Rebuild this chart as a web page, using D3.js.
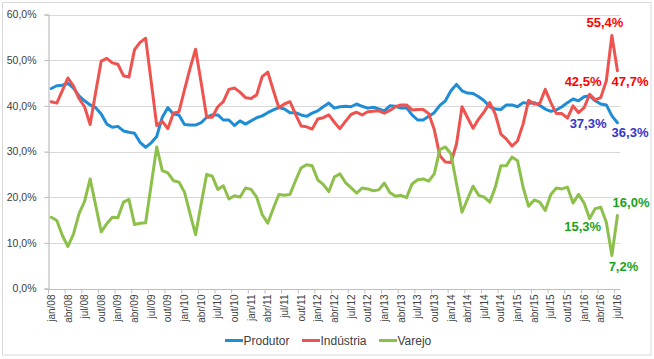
<!DOCTYPE html>
<html><head><meta charset="utf-8">
<script src="https://cdn.jsdelivr.net/npm/d3@7"></script>
<style>
html,body{margin:0;padding:0;background:#fff;}
svg{display:block;font-family:"Liberation Sans",Arial,sans-serif;}
</style></head>
<body><svg id="c" width="654" height="359"></svg>
<script>
const monthNames = ["jan","fev","mar","abr","mai","jun","jul","ago","set","out","nov","dez"];
const categories = [];
for (let y = 2008; y <= 2016; y++) for (let m = 0; m < 12; m++) {
  if (y === 2016 && m > 6) break;
  categories.push(monthNames[m] + "/" + String(y).slice(2));
}
const seriesNames = ["Produtor","Indústria","Varejo"];
const produtor = [43.8,44.4,44.5,44.9,43.9,42.2,41.1,40.2,39.6,38.2,36.0,35.3,35.5,34.5,34.2,34.0,32.0,30.9,31.9,33.3,
  37.5,39.6,38.2,38.0,35.9,35.8,35.8,36.3,37.5,38.0,38.0,36.9,36.9,35.7,36.7,36.0,36.7,37.4,37.8,38.5,
  39.1,39.6,39.3,38.5,38.5,38.0,37.7,38.4,38.9,39.8,40.6,39.5,39.8,39.9,39.8,40.4,39.9,39.5,39.7,39.3,
  38.9,40.0,39.9,39.5,39.6,38.0,36.9,36.9,37.7,38.5,40.1,41.1,43.3,44.7,43.3,42.8,42.7,42.0,41.1,39.8,
  39.3,39.2,40.2,40.2,39.8,40.7,40.5,40.7,40.1,39.3,38.8,39.1,39.8,40.7,41.5,41.1,42.0,42.2,41.1,40.4,
  40.2,37.8,36.3];
const industria = [40.9,40.6,43.4,46.1,44.3,41.6,39.8,35.9,43.0,49.8,50.4,49.4,49.1,46.6,46.3,52.3,53.9,54.8,45.3,35.7,
  36.6,35.0,38.4,38.7,43.5,48.2,52.4,45.1,37.5,37.5,39.8,40.9,43.6,43.9,43.0,41.8,41.6,42.4,46.4,47.4,
  43.4,39.6,40.4,40.9,38.2,35.6,35.4,34.9,37.1,37.4,38.0,36.4,35.0,36.6,38.1,38.6,38.0,38.7,38.8,38.9,
  38.4,39.0,39.8,40.2,40.2,39.1,39.2,39.2,38.3,34.8,29.1,27.7,27.6,31.6,39.8,37.4,35.1,37.1,38.7,40.7,
  38.2,33.8,32.7,31.2,32.3,36.0,41.2,40.4,40.5,43.6,40.7,38.3,38.3,37.3,40.0,38.5,39.6,42.5,41.3,41.8,
  45.5,55.4,47.7];
const varejo = [15.6,14.9,11.6,9.2,11.9,16.4,19.1,24.0,18.2,12.4,14.2,15.6,15.5,18.9,19.5,14.0,14.3,14.4,22.7,31.0,
  25.8,25.3,23.6,23.3,21.1,16.4,11.8,18.5,25.0,24.6,21.7,22.5,19.6,20.3,20.0,22.0,21.7,20.0,16.2,14.3,
  17.5,20.6,20.4,20.6,23.6,26.4,27.1,26.9,23.8,22.8,21.2,24.4,25.1,23.2,22.1,20.9,22.0,21.8,21.4,21.6,
  23.1,21.0,20.2,20.4,19.9,22.9,23.8,24.0,23.5,25.1,30.4,31.0,29.5,23.0,16.7,19.6,22.4,20.4,20.0,18.9,
  22.2,26.9,26.9,28.8,28.0,22.2,18.0,19.4,18.9,17.1,20.6,22.0,21.8,22.2,18.7,20.6,18.7,15.3,17.5,17.8,
  14.5,7.2,16.0];
const yTicks = [0,10,20,30,40,50,60];
const annLabels = ["55,4%","47,7%","42,5%","37,3%","36,3%","16,0%","15,3%","7,2%"];
const annValues = [55.4,47.7,42.5,37.3,36.3,16.0,15.3,7.2];
const annIndex  = [101,102,97,97,102,102,97,101];
const annSeries = [1,1,1,0,0,2,2,2];

const lineColors = ["#1f8dd6","#ee5350","#8dc04b"];
const annColors = ["#3535cc","#ff0000","#1aa31a"];
const annOffsets = [[-7,-8.5],[12.6,15.3],[-6.6,-8.4],[-1.6,10],[12.6,14.3],[13.6,-8.4],[-7,12.4],[11.6,15.4]];

const svg = d3.select("#c");
const L = 48.5, R = 620.2, T = 14.5, B = 288.5;
const x = d3.scaleBand().domain(categories).range([L, R]).padding(0);
const cx = d => x(d) + x.bandwidth() / 2;
const y = d3.scaleLinear().domain([0, 60]).range([B, T]);

svg.append("rect").attr("x",2.5).attr("y",2.5).attr("width",648.5).attr("height",352.5)
  .attr("fill","#fff").attr("stroke","#d9d9d9").attr("stroke-width",1);

// grid
svg.append("g").selectAll("line").data(yTicks.filter(t => t > 0)).join("line")
  .attr("x1", L - 4).attr("x2", R).attr("y1", d => Math.round(y(d)) + 0.5).attr("y2", d => Math.round(y(d)) + 0.5)
  .attr("stroke", "#d9d9d9").attr("stroke-width", 1.2);

// y axis
const yAxis = d3.axisLeft(y).tickValues(yTicks).tickSize(4).tickPadding(8)
  .tickFormat(d => d3.format(".1f")(d).replace(".", ",") + "%");
const gy = svg.append("g").attr("transform", `translate(${L},0)`).call(yAxis);
gy.select(".domain").attr("stroke", "#bfbfbf").attr("stroke-width", 1.2);
gy.selectAll(".tick line").attr("stroke", "#bfbfbf");
gy.selectAll(".tick text").attr("font-size", "10.5px").attr("fill", "#404040")
  .attr("font-family", '"Liberation Sans",Arial,sans-serif');

// x axis
const xTickCats = categories.filter((d, i) => i % 3 === 0);
const gx = svg.append("g").attr("transform", `translate(0,${Math.round(B)+0.5})`);
gx.append("line").attr("x1", L - 4).attr("x2", R).attr("stroke", "#bfbfbf").attr("stroke-width", 1.2);
gx.selectAll("line.tk").data(xTickCats).join("line").attr("class","tk")
  .attr("x1", d => x(d)).attr("x2", d => x(d)).attr("y1", 0).attr("y2", 4).attr("stroke", "#bfbfbf");
gx.selectAll("text").data(xTickCats).join("text")
  .attr("transform", d => `translate(${cx(d) + 3.6},5) rotate(-90)`)
  .attr("text-anchor", "end").attr("font-size", "10px").attr("fill", "#404040")
  .text(d => d);

// lines
const allSeries = [produtor, industria, varejo];
const line = d3.line().x((d, i) => cx(categories[i])).y(d => y(d)).curve(d3.curveLinear);
svg.append("g").selectAll("path").data(allSeries).join("path")
  .attr("d", d => line(d)).attr("fill", "none")
  .attr("stroke", (d, i) => lineColors[i]).attr("stroke-width", 3)
  .attr("stroke-linejoin", "round").attr("stroke-linecap", "round");

// annotations
svg.append("g").selectAll("text").data(annLabels).join("text")
  .attr("x", (d, i) => cx(categories[annIndex[i]]) + annOffsets[i][0])
  .attr("y", (d, i) => y(annValues[i]) + annOffsets[i][1])
  .attr("text-anchor", "middle").attr("font-size", "13px").attr("font-weight", "bold")
  .attr("fill", (d, i) => annColors[annSeries[i]])
  .text(d => d);

// legend
const legX = [225, 302, 379];
const lg = svg.append("g").selectAll("g").data(seriesNames).join("g")
  .attr("transform", (d, i) => `translate(${legX[i]},340.5)`);
lg.append("line").attr("x1", 0).attr("x2", 18).attr("stroke", (d, i) => lineColors[i]).attr("stroke-width", 3);
lg.append("text").attr("x", 18.5).attr("y", 4.3).attr("font-size", "12px").attr("fill", "#404040").text(d => d);
</script></body></html>
